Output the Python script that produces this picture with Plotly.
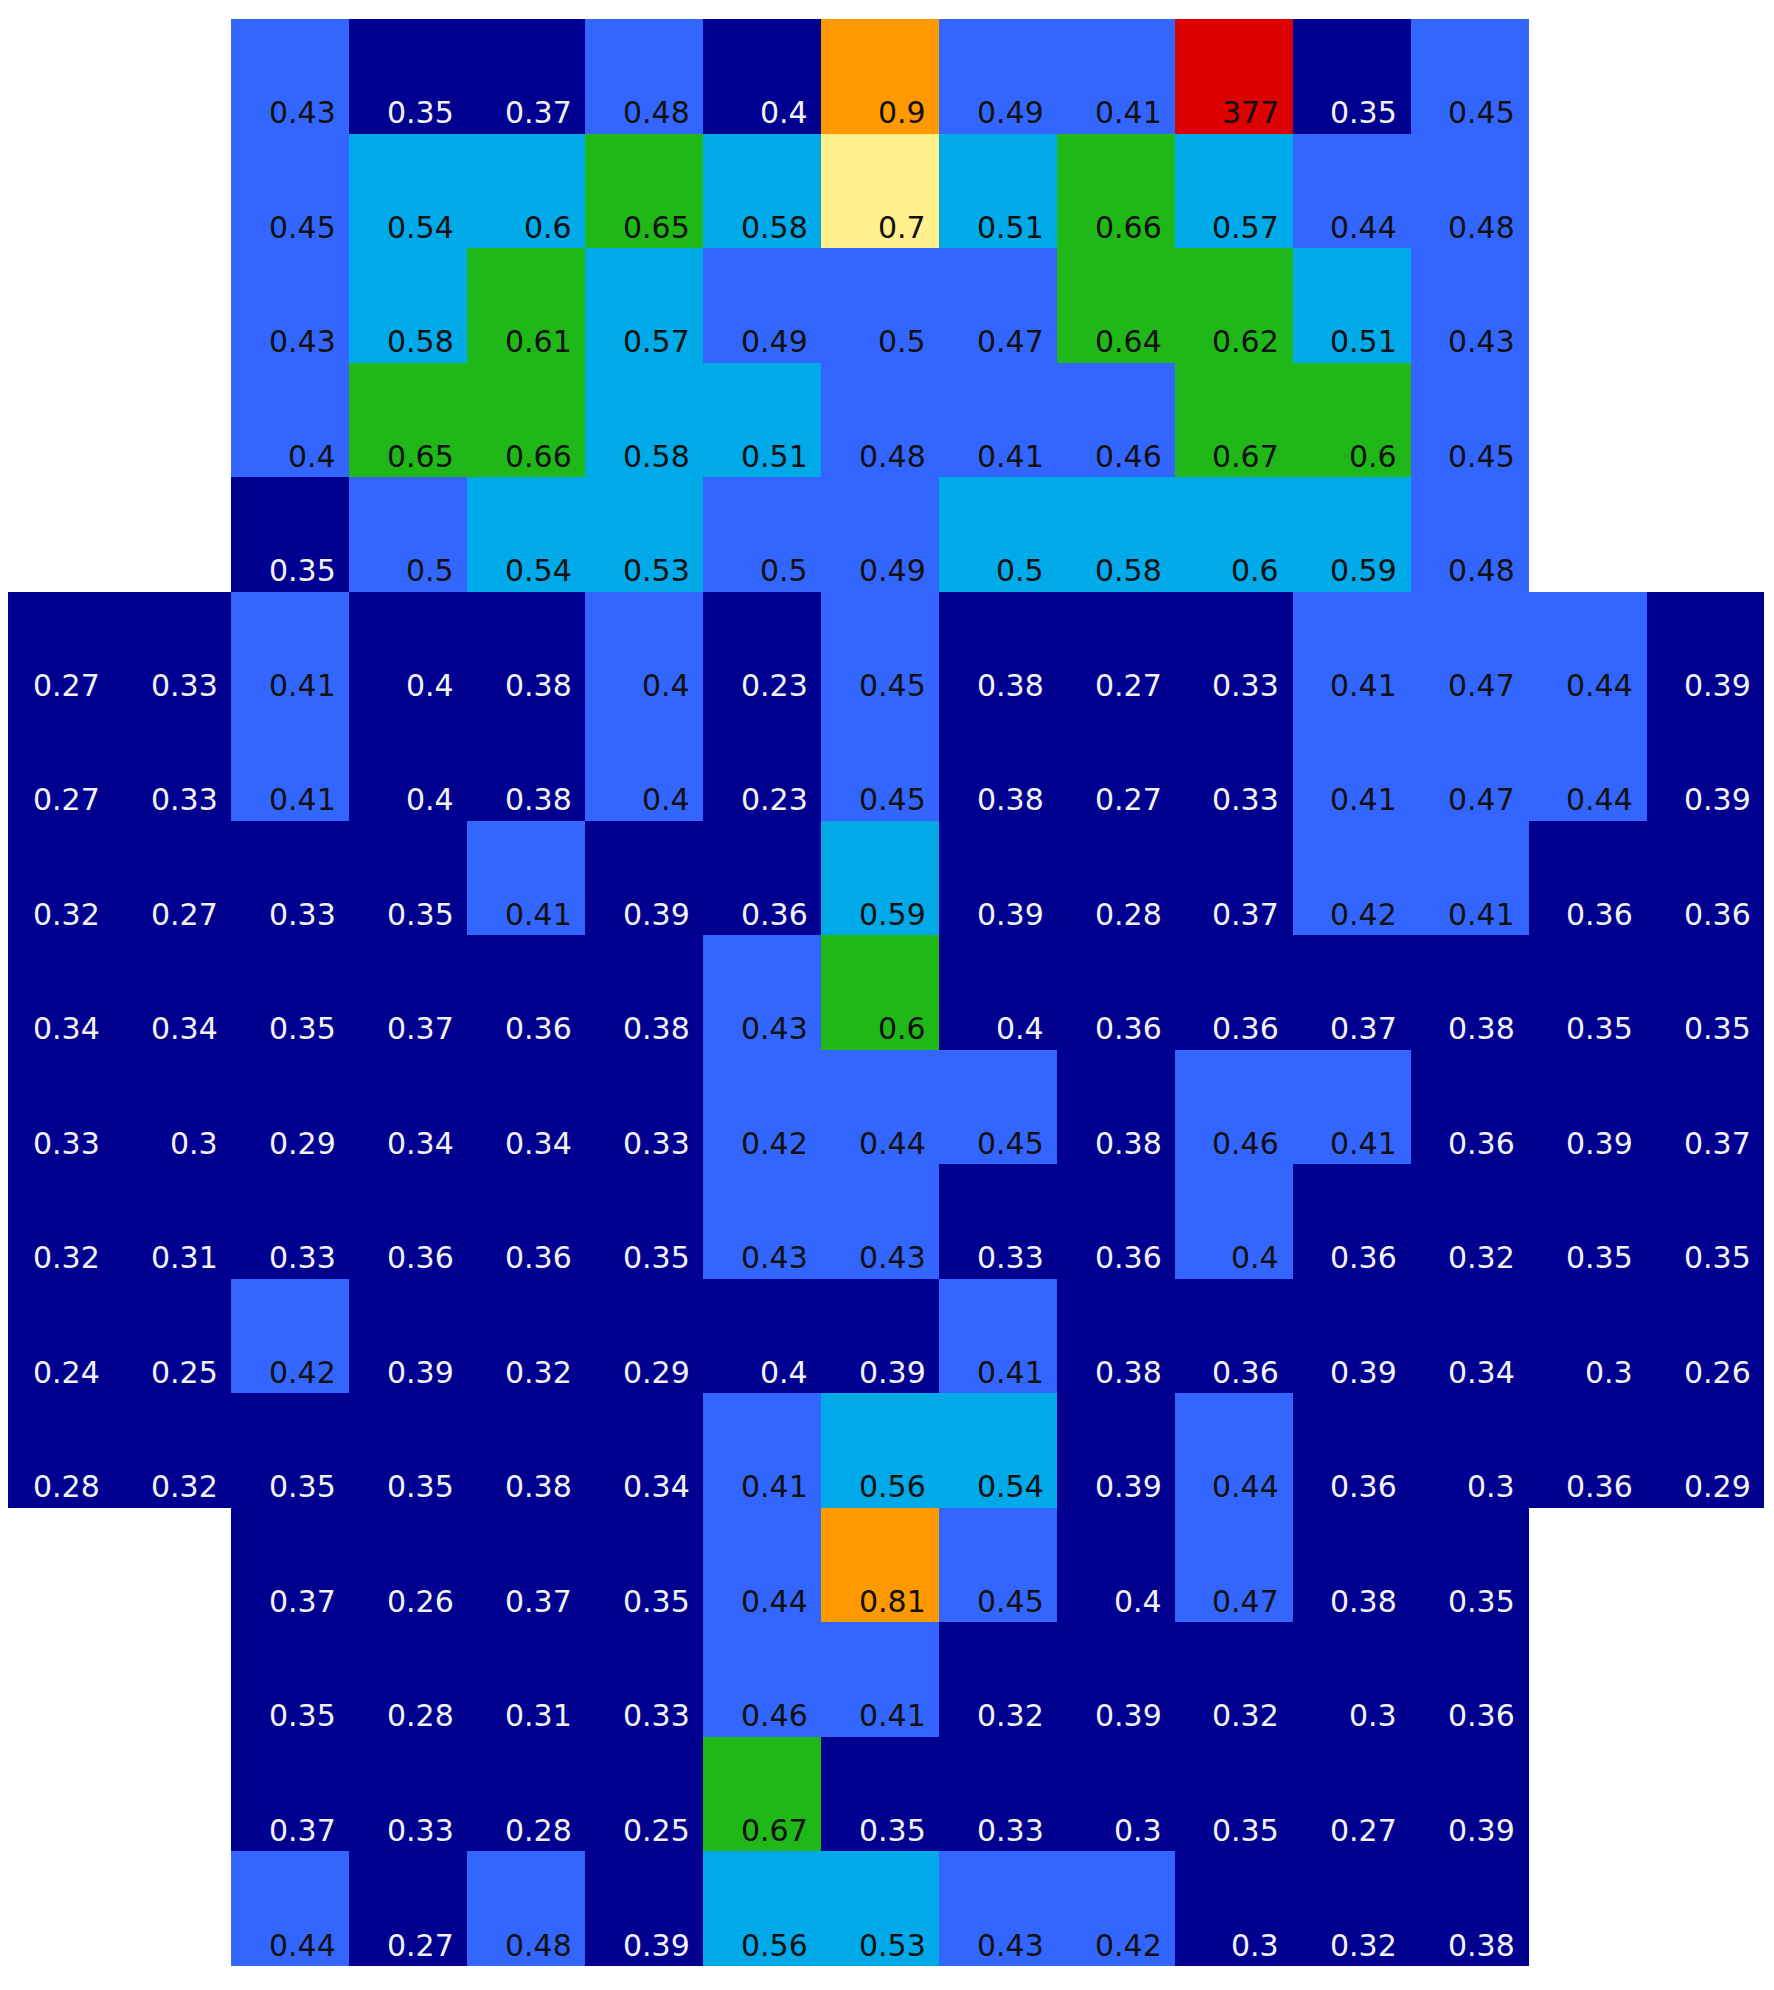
import numpy as np
import plotly.graph_objects as go

# 17 rows x 15 columns; None = no cell. Third decimal only nudges the
# rounded labels ("0.4", "0.5", "0.6") into the right colour band.
N = None
row_00 = [N, N, 0.43, 0.35, 0.37, 0.48, 0.398, 0.9, 0.49, 0.41, 377, 0.35, 0.45, N, N]
row_01 = [N, N, 0.45, 0.54, 0.598, 0.65, 0.58, 0.702, 0.51, 0.66, 0.57, 0.44, 0.48, N, N]
row_02 = [N, N, 0.43, 0.58, 0.61, 0.57, 0.49, 0.498, 0.47, 0.64, 0.62, 0.51, 0.43, N, N]
row_03 = [N, N, 0.402, 0.65, 0.66, 0.58, 0.51, 0.48, 0.41, 0.46, 0.67, 0.602, 0.45, N, N]
row_04 = [N, N, 0.35, 0.498, 0.54, 0.53, 0.498, 0.49, 0.502, 0.58, 0.598, 0.59, 0.48, N, N]
row_05 = [0.27, 0.33, 0.41, 0.398, 0.38, 0.402, 0.23, 0.45, 0.38, 0.27, 0.33, 0.41, 0.47, 0.44, 0.39]
row_06 = [0.27, 0.33, 0.41, 0.398, 0.38, 0.402, 0.23, 0.45, 0.38, 0.27, 0.33, 0.41, 0.47, 0.44, 0.39]
row_07 = [0.32, 0.27, 0.33, 0.35, 0.41, 0.39, 0.36, 0.59, 0.39, 0.28, 0.37, 0.42, 0.41, 0.36, 0.36]
row_08 = [0.34, 0.34, 0.35, 0.37, 0.36, 0.38, 0.43, 0.602, 0.398, 0.36, 0.36, 0.37, 0.38, 0.35, 0.35]
row_09 = [0.33, 0.3, 0.29, 0.34, 0.34, 0.33, 0.42, 0.44, 0.45, 0.38, 0.46, 0.41, 0.36, 0.39, 0.37]
row_10 = [0.32, 0.31, 0.33, 0.36, 0.36, 0.35, 0.43, 0.43, 0.33, 0.36, 0.402, 0.36, 0.32, 0.35, 0.35]
row_11 = [0.24, 0.25, 0.42, 0.39, 0.32, 0.29, 0.398, 0.39, 0.41, 0.38, 0.36, 0.39, 0.34, 0.3, 0.26]
row_12 = [0.28, 0.32, 0.35, 0.35, 0.38, 0.34, 0.41, 0.56, 0.54, 0.39, 0.44, 0.36, 0.3, 0.36, 0.29]
row_13 = [N, N, 0.37, 0.26, 0.37, 0.35, 0.44, 0.81, 0.45, 0.398, 0.47, 0.38, 0.35, N, N]
row_14 = [N, N, 0.35, 0.28, 0.31, 0.33, 0.46, 0.41, 0.32, 0.39, 0.32, 0.3, 0.36, N, N]
row_15 = [N, N, 0.37, 0.33, 0.28, 0.25, 0.67, 0.35, 0.33, 0.3, 0.35, 0.27, 0.39, N, N]
row_16 = [N, N, 0.44, 0.27, 0.48, 0.39, 0.56, 0.53, 0.43, 0.42, 0.3, 0.32, 0.38, N, N]

rows = [row_00, row_01, row_02, row_03, row_04, row_05, row_06, row_07, row_08,
        row_09, row_10, row_11, row_12, row_13, row_14, row_15, row_16]

band_edges = [0.4, 0.5, 0.6, 0.7, 0.8, 1.0]
band_colors = ["#000090", "#3366FF", "#00AAE8", "#20B818", "#FFF08C", "#FF9900", "#DD0000"]

vals = np.array([[np.nan if v is None else v for v in r] for r in rows], dtype=float)
n_rows, n_cols = vals.shape
band = np.where(np.isnan(vals), np.nan, np.digitize(np.nan_to_num(vals), band_edges))

# discrete colour scale: one flat step per band
nb = len(band_colors)
cscale = []
for i, c in enumerate(band_colors):
    cscale += [[i / nb, c], [(i + 1) / nb, c]]

fig = go.Figure()
fig.add_heatmap(
    z=band,
    x=list(range(n_cols)),
    y=list(range(n_rows)),
    zmin=-0.5, zmax=nb - 0.5,
    colorscale=cscale,
    showscale=False,
    hoverinfo="skip",
)

# labels sit in the bottom-right corner of each cell
for r in range(n_rows):
    for c in range(n_cols):
        v = vals[r, c]
        if np.isnan(v):
            continue
        fig.add_annotation(
            x=c + 0.5, y=r + 0.5,
            text=f"{v:.2f}".rstrip("0").rstrip("."),
            showarrow=False, xanchor="right", yanchor="bottom",
            xshift=-11, yshift=1.5,
            font=dict(family="DejaVu Sans, Verdana, sans-serif", size=30,
                      color="#F2F2F2" if band[r, c] == 0 else "#111111"),
        )

# the first column runs slightly off the left edge of the page
fig.update_xaxes(range=[-0.394, n_cols - 0.5], visible=False, fixedrange=True)
fig.update_yaxes(range=[n_rows - 0.5, -0.5], visible=False, fixedrange=True)
fig.update_layout(
    width=1766, height=1982,
    margin=dict(l=0, r=10, t=11, b=24),
    plot_bgcolor="white", paper_bgcolor="white",
    showlegend=False,
)
fig.write_html("out.html")
